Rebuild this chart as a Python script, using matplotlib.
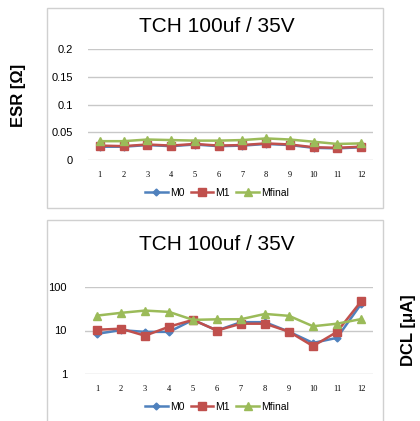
import matplotlib
matplotlib.use("Agg")
import matplotlib.pyplot as plt
from matplotlib.patches import Rectangle

plt.rcParams["font.family"] = ["Liberation Sans", "DejaVu Sans"]

samples = list(range(1, 13))
title = "TCH 100uf / 35V"
series_names = ["M0", "M1", "Mfinal"]

esr_m0 = [0.024, 0.024, 0.027, 0.025, 0.028, 0.025, 0.026, 0.029, 0.027, 0.022, 0.021, 0.023]
esr_m1 = [0.026, 0.025, 0.028, 0.026, 0.029, 0.026, 0.027, 0.030, 0.028, 0.023, 0.022, 0.024]
esr_mfinal = [0.034, 0.034, 0.037, 0.036, 0.035, 0.035, 0.036, 0.039, 0.037, 0.033, 0.029, 0.030]

dcl_m0 = [8.4, 10.2, 9.3, 9.3, 17.5, 10.0, 15.5, 15.5, 9.4, 5.2, 6.8, 40.0]
dcl_m1 = [10.4, 11.0, 7.6, 12.2, 17.5, 10.0, 14.3, 14.3, 9.4, 4.4, 9.3, 46.0]
dcl_mfinal = [21.9, 25.3, 28.5, 26.6, 17.5, 18.0, 18.1, 23.9, 21.6, 12.5, 14.3, 18.2]

colors = ["#4F81BD", "#C0504D", "#9BBB59"]
markers = ["D", "s", "^"]
msizes = [3.5, 5.5, 5.5]

W, H = 420, 421
fig = plt.figure(figsize=(4.2, 4.21), dpi=100)


def px_axes(x0, y0, x1, y1):
    return fig.add_axes([x0 / W, 1 - y1 / H, (x1 - x0) / W, (y1 - y0) / H])


def style(ax):
    for s in ax.spines.values():
        s.set_visible(False)
    ax.tick_params(length=0)
    ax.grid(axis="y", color="#C8C8C8", linewidth=1)
    ax.set_axisbelow(True)
    ax.set_xlim(0.5, 12.5)
    ax.set_xticks(samples)
    ax.set_xticklabels([str(s) for s in samples], fontsize=6, family="Liberation Serif")


# chart frames
fig.patches.append(Rectangle((47 / W, 1 - 208 / H), 336 / W, 200 / H, transform=fig.transFigure,
                             fill=False, edgecolor="#D0D0D0", linewidth=1))
fig.patches.append(Rectangle((47 / W, -0.05), 336 / W, 1 - 220 / H + 0.05, transform=fig.transFigure,
                             fill=False, edgecolor="#D0D0D0", linewidth=1))

# top: ESR
ax1 = px_axes(88, 49.3, 373, 160)
style(ax1)
for vals, c, m, ms, n in zip([esr_m0, esr_m1, esr_mfinal], colors, markers, msizes, series_names):
    ax1.plot(samples, vals, color=c, marker=m, markersize=ms, linewidth=1.8, label=n)
ax1.set_ylim(0, 0.2)
ax1.set_yticks([0, 0.05, 0.1, 0.15, 0.2])
ax1.set_yticklabels(["0", "0.05", "0.1", "0.15", "0.2"], fontsize=8)
ax1.tick_params(axis="y", pad=11)
ax1.tick_params(axis="x", pad=8)
fig.text(217 / W, 1 - 27 / H, title, ha="center", va="center", fontsize=15)
fig.text(18 / W, 1 - 95 / H, "ESR [Ω]", rotation=90, ha="center", va="center",
         fontsize=12, fontweight="bold")
ax1.legend(loc="center", bbox_to_anchor=(217 / W, 1 - 193 / H), bbox_transform=fig.transFigure,
           ncol=3, frameon=False, fontsize=7.5, handlelength=2.2, handletextpad=0.2,
           columnspacing=0.6)

# bottom: DCL
ax2 = px_axes(85, 286.7, 373, 374.3)
style(ax2)
for vals, c, m, ms, n in zip([dcl_m0, dcl_m1, dcl_mfinal], colors, markers, msizes, series_names):
    ax2.plot(samples, vals, color=c, marker=m, markersize=ms, linewidth=1.8, label=n)
ax2.set_yscale("log")
ax2.set_ylim(1, 100)
ax2.set_yticks([1, 10, 100])
ax2.set_yticklabels(["1", "10", "100"], fontsize=8)
ax2.minorticks_off()
ax2.tick_params(axis="y", pad=13)
ax2.tick_params(axis="x", pad=8)
fig.text(217 / W, 1 - 244 / H, title, ha="center", va="center", fontsize=15)
fig.text(409 / W, 1 - 330 / H, "DCL [μA]", rotation=90, ha="center", va="center",
         fontsize=12, fontweight="bold")
ax2.legend(loc="center", bbox_to_anchor=(217 / W, 1 - 407 / H), bbox_transform=fig.transFigure,
           ncol=3, frameon=False, fontsize=7.5, handlelength=2.2, handletextpad=0.2,
           columnspacing=0.6)

fig.savefig("out.png", dpi=100)
plt.close(fig)
